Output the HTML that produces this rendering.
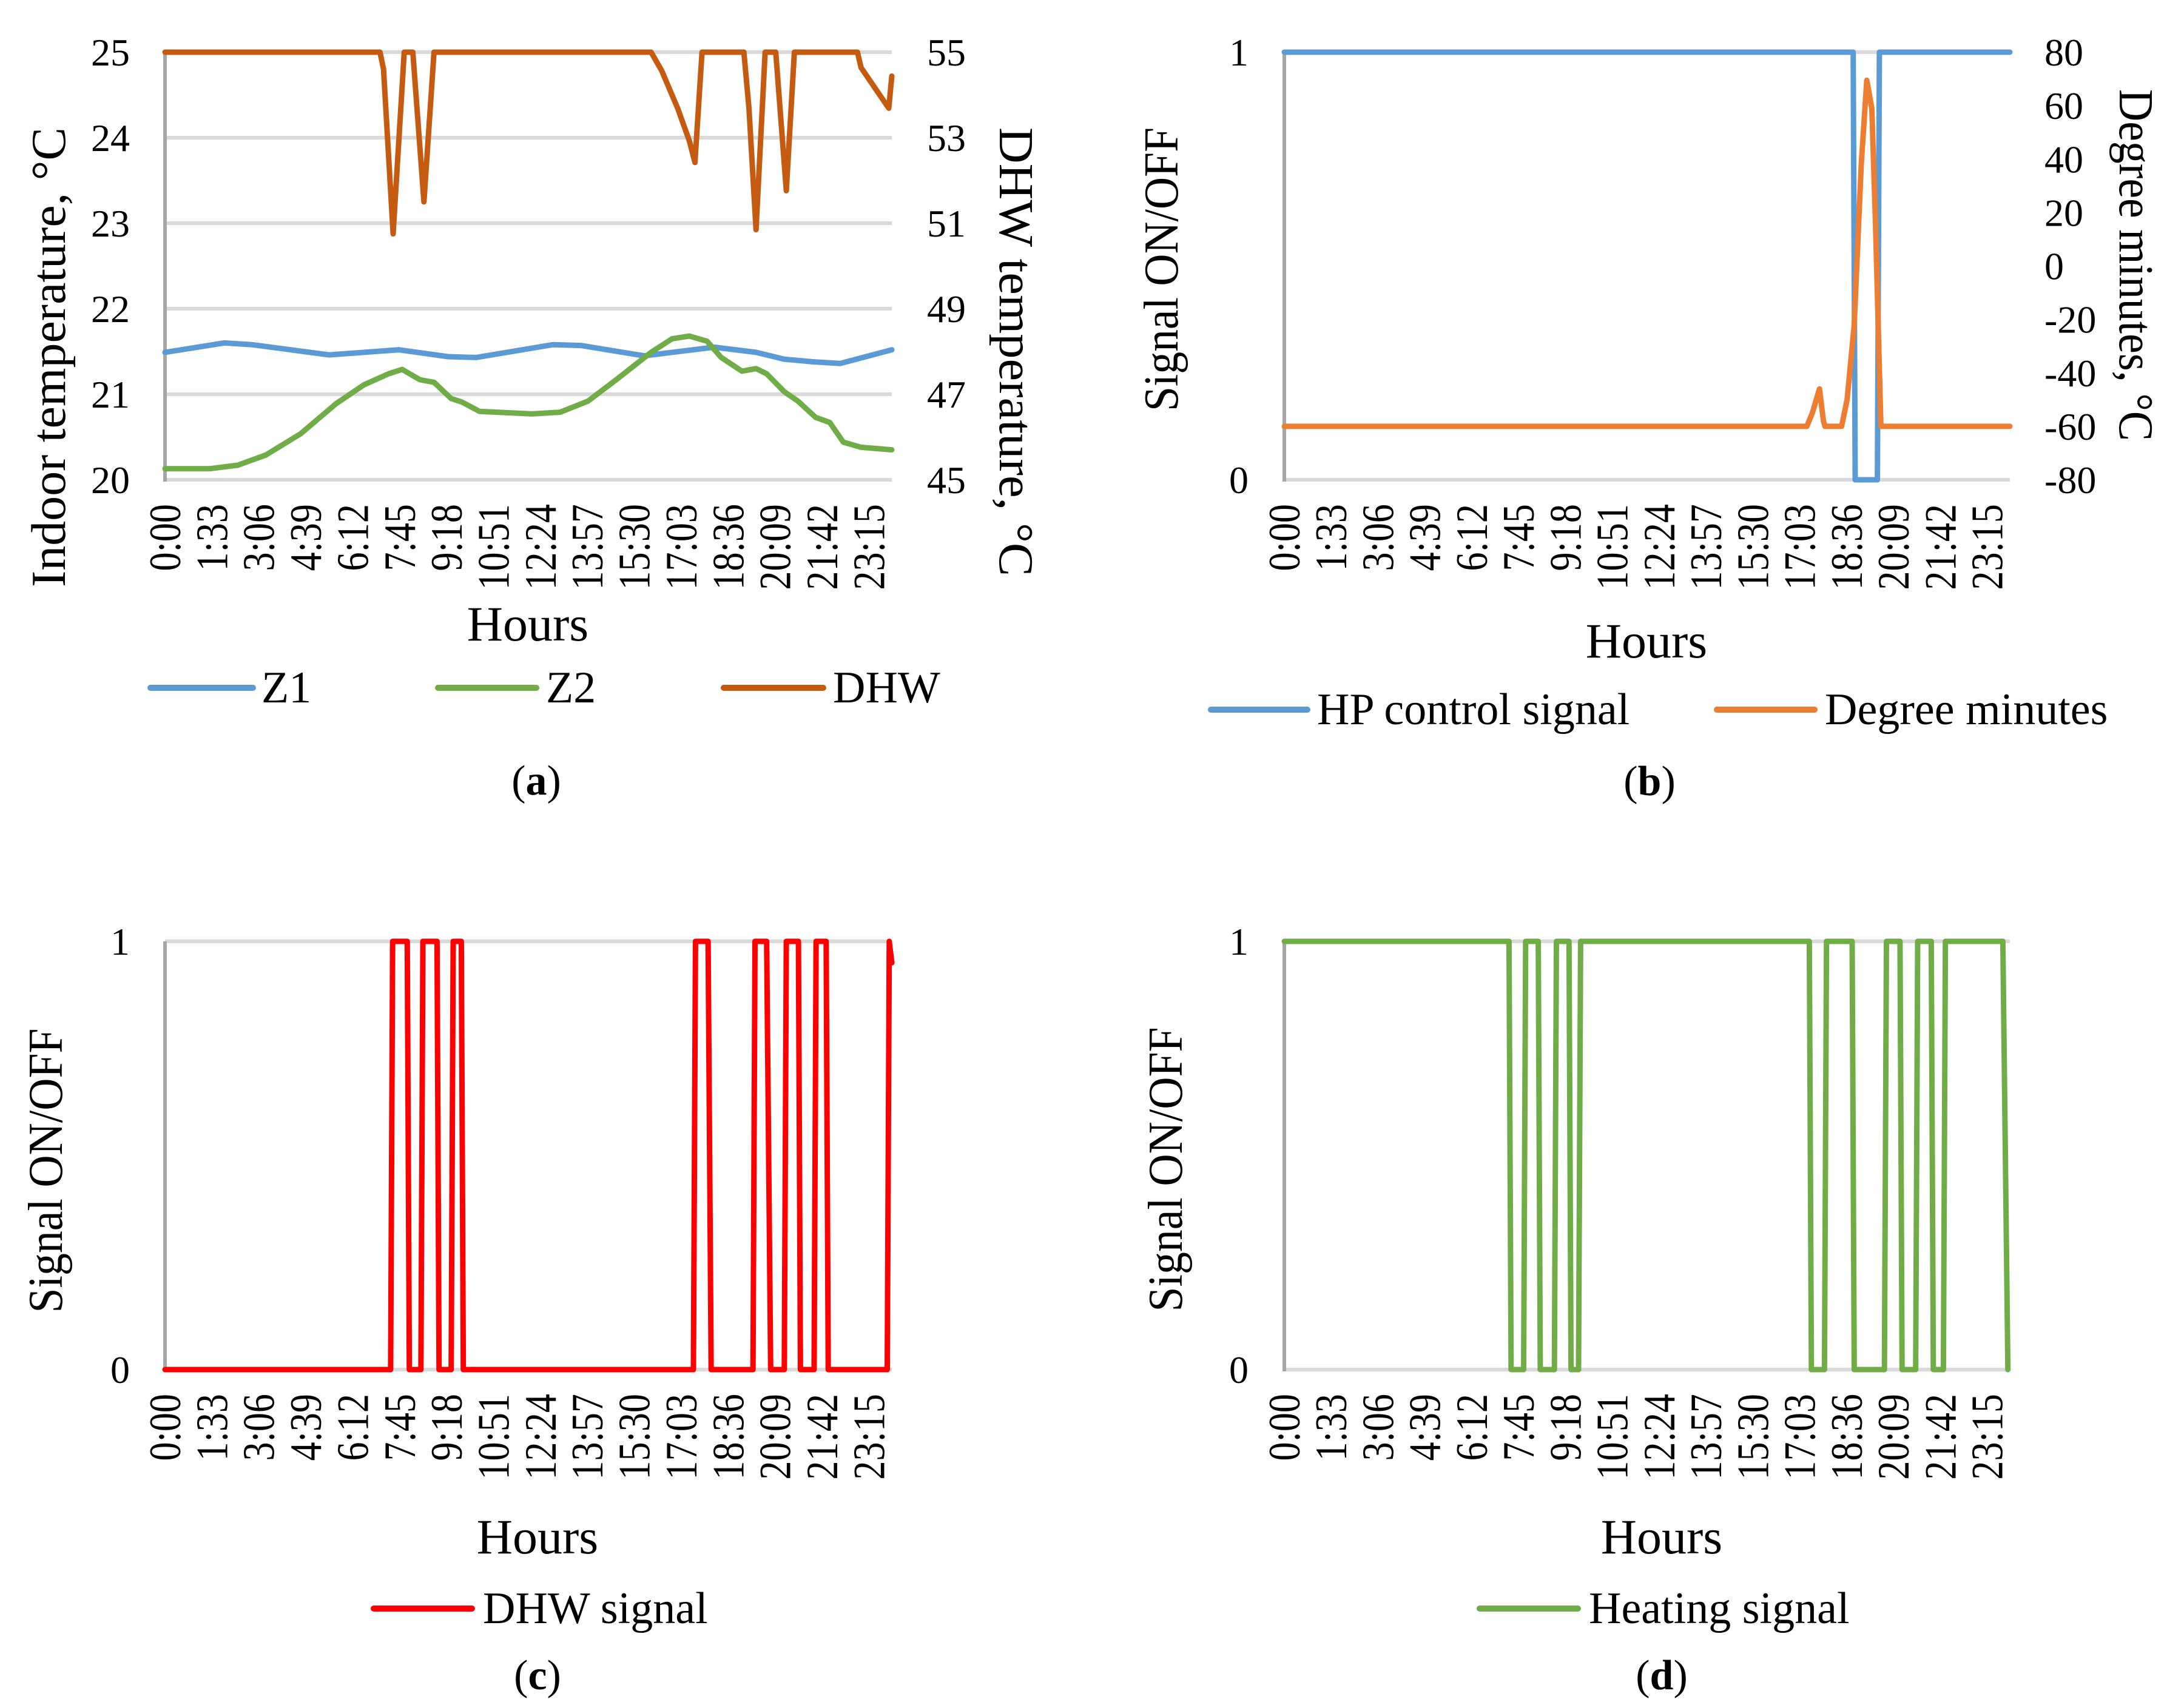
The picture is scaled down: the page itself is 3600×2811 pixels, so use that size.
<!DOCTYPE html>
<html><head><meta charset="utf-8">
<style>
html,body{margin:0;padding:0;background:#fff;}
svg{display:block;font-family:"Liberation Serif","Times New Roman",serif;}
</style></head>
<body>
<svg id="fig" width="3600" height="2811" viewBox="0 0 3600 2811" xmlns="http://www.w3.org/2000/svg">
<rect x="0" y="0" width="3600" height="2811" fill="#fff"/>
</svg>
<script>
// ---- data ----
const xTickLabels = ["0:00","1:33","3:06","4:39","6:12","7:45","9:18","10:51","12:24","13:57","15:30","17:03","18:36","20:09","21:42","23:15"];
const leftTicksA = [20,21,22,23,24,25];
const rightTicksA = [45,47,49,51,53,55];
const signalTicks = [0,1];
const rightTicksB = [-80,-60,-40,-20,0,20,40,60,80];

const z1Minutes = [0,117,172,325,463,561,616,769,824,949,1088,1171,1227,1282,1338,1440];
const z1Values  = [21.49,21.60,21.58,21.46,21.52,21.44,21.43,21.58,21.57,21.45,21.55,21.49,21.41,21.38,21.36,21.52];

const z2Minutes = [0,89,144,200,269,339,394,443,470,505,533,567,588,623,727,783,838,894,963,1005,1039,1074,1102,1143,1171,1192,1227,1254,1289,1317,1344,1379,1440];
const z2Values  = [20.13,20.13,20.17,20.29,20.54,20.89,21.11,21.24,21.29,21.17,21.14,20.95,20.91,20.80,20.77,20.79,20.92,21.17,21.49,21.65,21.68,21.62,21.43,21.27,21.30,21.24,21.03,20.92,20.73,20.67,20.44,20.38,20.35];

const dhwMinutes = [0,426,433,452,474,491,513,533,963,984,1016,1039,1050,1064,1147,1157,1171,1189,1210,1231,1247,1372,1379,1434,1440];
const dhwValues  = [55,55,54.6,50.75,55,55,51.5,55,55,54.57,53.68,52.92,52.42,55,55,53.68,50.85,55,55,51.76,55,55,54.64,53.69,54.44];

const hpMinutes = [0,1129,1133,1177,1181,1440];
const hpValues  = [1,1,0,0,1,1];

const dmMinutes = [0,1037,1048,1062,1070,1073,1106,1117,1131,1145,1156,1166,1173,1184,1440];
const dmValues  = [-60,-60,-55,-46,-58,-60,-60,-50,-22,38,69.5,59,18,-60,-60];

const dhwSigMinutes = [0,447,451,480,484,507,511,539,543,567,571,587,591,1047,1051,1076,1082,1165,1169,1192,1200,1227,1231,1255,1259,1286,1290,1310,1314,1431,1435,1440];
const dhwSigValues  = [0,0,1,1,0,0,1,1,0,0,1,1,0,0,1,1,0,0,1,1,0,0,1,1,0,0,1,1,0,0,1,0.95];

const heatMinutes = [0,446,450,475,479,504,508,536,540,565,569,584,588,1042,1046,1072,1076,1127,1131,1191,1195,1222,1226,1253,1257,1284,1288,1308,1312,1426,1436];
const heatValues  = [1,1,0,0,1,1,0,0,1,1,0,0,1,1,0,0,1,1,0,0,1,1,0,0,1,1,0,0,1,1,0];

// ---- drawing ----
const NS = "http://www.w3.org/2000/svg";
const svg = document.getElementById("fig");
function mk(tag, attrs, parent){
  const e = document.createElementNS(NS, tag);
  for (const k in attrs) e.setAttribute(k, attrs[k]);
  (parent||svg).appendChild(e);
  return e;
}
function minutesOf(lbl){ const p = lbl.split(":"); return (+p[0])*60 + (+p[1]); }
function xScale(P, m){ return P.L + m/1440*(P.R-P.L); }
function yScale(P, v, lo, hi){ return P.B - (v-lo)/(hi-lo)*(P.B-P.T); }

function label(txt, x, y, size, name, extra){
  const t = mk("text", Object.assign({x:x, y:y, "font-size":size, fill:"#000"}, extra||{}));
  t.textContent = txt;
  
  
  return t;
}
function rotLabel(txt, cx, cy, size, angle, len, name){
  const t = mk("text", {x:0, y:0, "font-size":size, fill:"#000", "text-anchor":"middle", "dominant-baseline":"central",
    transform:"translate("+cx+","+cy+") rotate("+angle+")", textLength:len, lengthAdjust:"spacingAndGlyphs"});
  t.textContent = txt;
  
  
  return t;
}
function series(P, mins, vals, lo, hi, color, name){
  let pts = [];
  for (let i=0;i<mins.length;i++) pts.push(xScale(P,mins[i]).toFixed(1)+","+yScale(P,vals[i],lo,hi).toFixed(1));
  const pl = mk("polyline", {points:pts.join(" "), fill:"none", stroke:color, "stroke-width":9, "stroke-linejoin":"round", "stroke-linecap":"round"});
  
  
}
function frame(P, ticks, lo, hi, tickX, pref){
  ticks.forEach(function(v){
    const y = yScale(P,v,lo,hi);
    const g = mk("line", {x1:P.L, x2:P.R, y1:y, y2:y, stroke:"#d9d9d9", "stroke-width":6});
    
    
    label(String(v), tickX, y+22, 64, pref+'-left-tick-label', {"text-anchor":"end"});
  });
  const ax = mk("line", {x1:P.L, x2:P.L, y1:P.T, y2:P.B+3, stroke:"#a6a6a6", "stroke-width":6});
  
  
  xTickLabels.forEach(function(l){
    const x = xScale(P, minutesOf(l));
    const t = mk("text", {x:0, y:0, "font-size":74, fill:"#000", "text-anchor":"end", "dominant-baseline":"central",
      transform:"translate("+x.toFixed(1)+","+(P.B+40)+") rotate(-90) scale(0.84,1)"});
    t.textContent = l;
    
    
  });
}
function rightTicks(P, ticks, lo, hi, x, pref){
  ticks.forEach(function(v){
    const y = yScale(P,v,lo,hi);
    label(String(v), x, y+22, 64, pref+'-right-tick-label', {"text-anchor":"start"});
  });
}
function legendItem(x1, x2, y, color, txt, tx, name){
  const l = mk("line", {x1:x1, x2:x2, y1:y, y2:y, stroke:color, "stroke-width":10, "stroke-linecap":"round"});
  
  
  label(txt, tx, y+24, 74, name+'-label');
}
function panelLetter(letter, cx, y, name){
  const t = mk("text", {x:cx, y:y, "font-size":70, fill:"#000", "text-anchor":"middle"});
  
  
  const a = mk("tspan", {}, t); a.textContent = "(";
  const b = mk("tspan", {"font-weight":"bold"}, t); b.textContent = letter;
  const c = mk("tspan", {}, t); c.textContent = ")";
}

// Panel a
const PA = {L:272, R:1470, T:86, B:791};
frame(PA, leftTicksA, 20, 25, 214, 'a');
rightTicks(PA, rightTicksA, 45, 55, 1528, 'a');
series(PA, z1Minutes, z1Values, 20, 25, "#5b9bd5", "a-z1-line");
series(PA, z2Minutes, z2Values, 20, 25, "#70ad47", "a-z2-line");
series(PA, dhwMinutes, dhwValues, 45, 55, "#c55a11", "a-dhw-line");
rotLabel("Indoor temperature, \u00B0C", 81, 589, 80, -90, 758, "a-left-axis-title");
rotLabel("DHW temperature, \u00B0C", 1674, 580, 80, 90, 740, "a-right-axis-title");
label("Hours", 870, 1056, 82, "a-x-axis-title", {"text-anchor":"middle"});
legendItem(248, 417, 1134, "#5b9bd5", "Z1", 431, "a-legend-z1");
legendItem(722, 884, 1134, "#70ad47", "Z2", 900, "a-legend-z2");
legendItem(1193, 1357, 1134, "#c55a11", "DHW", 1373, "a-legend-dhw");
panelLetter("a", 884, 1310, "a-panel-label");

// Panel b
const PB = {L:2117, R:3313, T:86, B:791};
frame(PB, signalTicks, 0, 1, 2058, 'b');
rightTicks(PB, rightTicksB, -80, 80, 3370, 'b');
series(PB, hpMinutes, hpValues, 0, 1, "#5b9bd5", "b-hp-signal-line");
series(PB, dmMinutes, dmValues, -80, 80, "#ed7d31", "b-degree-minutes-line");
rotLabel("Signal ON/OFF", 1915, 444, 80, -90, 468, "b-left-axis-title");
rotLabel("Degree minutes, \u00B0C", 3520, 437, 80, 90, 580, "b-right-axis-title");
label("Hours", 2714, 1084, 82, "b-x-axis-title", {"text-anchor":"middle"});
legendItem(1996, 2155, 1170, "#5b9bd5", "HP control signal", 2171, "b-legend-hp");
legendItem(2830, 2991, 1170, "#ed7d31", "Degree minutes", 3008, "b-legend-dm");
panelLetter("b", 2719, 1311, "b-panel-label");

// Panel c
const PC = {L:272, R:1470, T:1552, B:2258};
frame(PC, signalTicks, 0, 1, 214, 'c');
series(PC, dhwSigMinutes, dhwSigValues, 0, 1, "#ff0000", "c-dhw-signal-line");
rotLabel("Signal ON/OFF", 76, 1930, 80, -90, 469, "c-left-axis-title");
label("Hours", 886, 2561, 82, "c-x-axis-title", {"text-anchor":"middle"});
legendItem(616, 778, 2652, "#ff0000", "DHW signal", 796, "c-legend-dhw-signal");
panelLetter("c", 886, 2785, "c-panel-label");

// Panel d
const PD = {L:2117, R:3313, T:1552, B:2258};
frame(PD, signalTicks, 0, 1, 2058, 'd');
series(PD, heatMinutes, heatValues, 0, 1, "#70ad47", "d-heating-signal-line");
rotLabel("Signal ON/OFF", 1922, 1928, 80, -90, 469, "d-left-axis-title");
label("Hours", 2739, 2561, 82, "d-x-axis-title", {"text-anchor":"middle"});
legendItem(2439, 2601, 2652, "#70ad47", "Heating signal", 2619, "d-legend-heating-signal");
panelLetter("d", 2739, 2785, "d-panel-label");
</script>
</body></html>
